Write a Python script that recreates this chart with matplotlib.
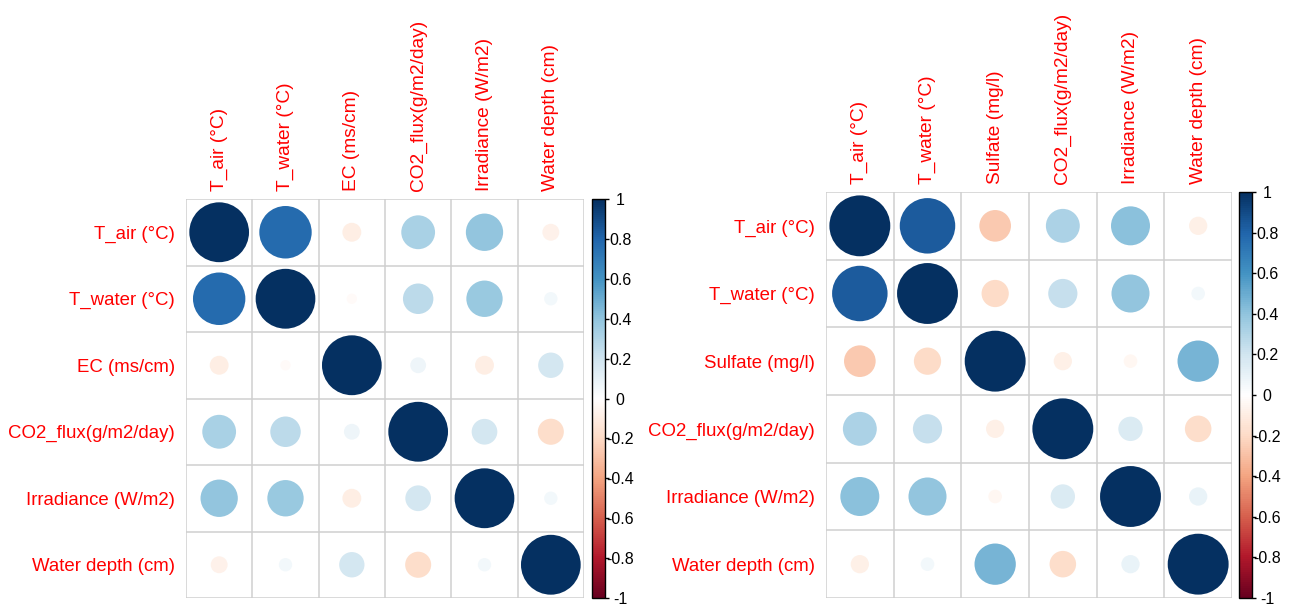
import numpy as np
import matplotlib
matplotlib.use("Agg")
import matplotlib.pyplot as plt
from matplotlib.colors import LinearSegmentedColormap, Normalize
from matplotlib.patches import Circle
from matplotlib.colorbar import ColorbarBase

plt.rcParams['font.family'] = ['Liberation Sans', 'DejaVu Sans']

# Variable names for each correlation matrix
labels_left = ["T_air (°C)", "T_water (°C)", "EC (ms/cm)",
               "CO2_flux(g/m2/day)", "Irradiance (W/m2)", "Water depth (cm)"]
labels_right = ["T_air (°C)", "T_water (°C)", "Sulfate (mg/l)",
                "CO2_flux(g/m2/day)", "Irradiance (W/m2)", "Water depth (cm)"]

# Pearson correlations (rows/cols in label order)
corr_left = np.array([
    [1.00, 0.77, -0.10, 0.32, 0.39, -0.08],
    [0.77, 1.00, -0.03, 0.26, 0.37, 0.05],
    [-0.10, -0.03, 1.00, 0.07, -0.10, 0.18],
    [0.32, 0.26, 0.07, 1.00, 0.185, -0.19],
    [0.39, 0.37, -0.10, 0.185, 1.00, 0.05],
    [-0.08, 0.05, 0.18, -0.19, 0.05, 1.00],
])
corr_right = np.array([
    [1.00, 0.83, -0.27, 0.31, 0.41, -0.09],
    [0.83, 1.00, -0.20, 0.23, 0.39, 0.05],
    [-0.27, -0.20, 1.00, -0.09, -0.05, 0.46],
    [0.31, 0.23, -0.09, 1.00, 0.16, -0.19],
    [0.41, 0.39, -0.05, 0.16, 1.00, 0.09],
    [-0.09, 0.05, 0.46, -0.19, 0.09, 1.00],
])

# Colour legend ticks
cbar_ticks = [-1.0, -0.8, -0.6, -0.4, -0.2, 0.0, 0.2, 0.4, 0.6, 0.8, 1.0]

rdbu = LinearSegmentedColormap.from_list(
    "corr_rdbu",
    ["#67001F", "#B2182B", "#D6604D", "#F4A582", "#FDDBC7", "#FFFFFF",
     "#D1E5F0", "#92C5DE", "#4393C3", "#2166AC", "#053061"], N=200)
norm = Normalize(-1, 1)

W, H = 1295, 610
fig = plt.figure(figsize=(W / 100, H / 100), dpi=100)
fig.patch.set_facecolor("white")


def px_axes(x0, y0, x1, y1):
    return fig.add_axes([x0 / W, 1 - y1 / H, (x1 - x0) / W, (y1 - y0) / H])


def corr_panel(ax, mat, labels):
    n = len(labels)
    ax.set_xlim(0, n)
    ax.set_ylim(0, n)
    for i in range(n):
        for j in range(n):
            r = mat[i, j]
            c = Circle((j + 0.5, n - i - 0.5), 0.45 * np.sqrt(abs(r)),
                       facecolor=rdbu(norm(r)), edgecolor="none", zorder=2)
            ax.add_patch(c)
    for k in range(n + 1):
        ax.axhline(k, color="#CFCFCF", lw=1.1, zorder=1)
        ax.axvline(k, color="#CFCFCF", lw=1.1, zorder=1)
    for s in ax.spines.values():
        s.set_visible(False)
    ax.xaxis.tick_top()
    ax.set_xticks(np.arange(n) + 0.5)
    ax.set_xticklabels(labels, rotation=90, color="red", fontsize=13.8)
    ax.set_yticks(n - np.arange(n) - 0.5)
    ax.set_yticklabels(labels, color="red", fontsize=13.4)
    ax.tick_params(axis="x", length=0, pad=5.5)
    ax.tick_params(axis="y", length=0, pad=8)


def corr_legend(cax):
    cb = ColorbarBase(cax, cmap=rdbu, norm=norm, orientation="vertical")
    cb.set_ticks(cbar_ticks)
    cb.set_ticklabels([f"{t:g}" for t in cbar_ticks])
    cb.outline.set_linewidth(1.0)
    cb.outline.set_edgecolor("black")
    cax.tick_params(axis="y", length=3, width=1, pad=8, labelsize=11.5)
    for lab in cax.get_yticklabels():
        lab.set_ha("center")


ax1 = px_axes(186, 199, 584, 598)
corr_panel(ax1, corr_left, labels_left)
cax1 = px_axes(592, 199, 605, 598)
corr_legend(cax1)

ax2 = px_axes(826, 192, 1232, 598)
corr_panel(ax2, corr_right, labels_right)
cax2 = px_axes(1239, 192, 1252, 598)
corr_legend(cax2)

fig.savefig("out.png", dpi=100, facecolor="white")
